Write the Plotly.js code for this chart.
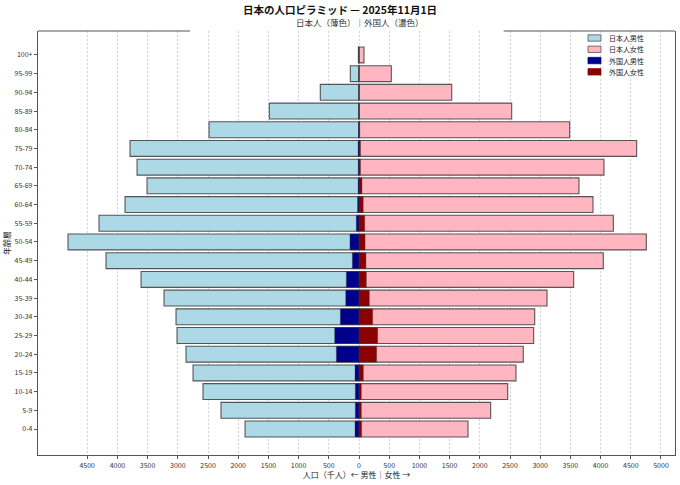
<!DOCTYPE html>
<html>
<head>
<meta charset="utf-8">
<script src="https://cdn.plot.ly/plotly-3.0.1.min.js"></script>
<style>
  html, body { margin: 0; padding: 0; background: #fff; }
  #chart { width: 680px; height: 485px; }
</style>
</head>
<body>
<div id="chart"></div>
<script>
// age groups, bottom -> top
const ages = ["0-4", "5-9", "10-14", "15-19", "20-24", "25-29", "30-34", "35-39", "40-44", "45-49",
    "50-54", "55-59", "60-64", "65-69", "70-74", "75-79", "80-84", "85-89", "90-94", "95-99", "100+"];

// population in thousands
const jpMale   = [1887, 2285, 2583, 2748, 2864, 3013, 3030, 3228, 3609, 4189, 4818, 4305, 3874, 3510, 3675, 3791, 2483, 1485, 641, 144, 10];
const jpFemale = [1805, 2180, 2462, 2599, 2720, 2892, 2909, 3113, 3554, 4045, 4757, 4211, 3874, 3642, 4056, 4597, 3488, 2528, 1535, 535, 83];
const fgMale   = [66, 61, 61, 66, 375, 403, 309, 220, 210, 110, 150, 45, 25, 15, 12, 15, 8, 4, 2, 1, 0];
const fgFemale = [44, 39, 39, 72, 292, 309, 226, 171, 122, 115, 100, 95, 70, 50, 25, 25, 12, 6, 3, 1, 0];

const seriesNames  = ["日本人男性", "日本人女性", "外国人男性", "外国人女性"];
const seriesColors = ["#ADD8E6", "#FFB6C1", "#00008B", "#8B0000"];

const tickVals = [-4500, -4000, -3500, -3000, -2500, -2000, -1500, -1000, -500, 0, 500, 1000, 1500, 2000, 2500, 3000, 3500, 4000, 4500, 5000];

const EDGE = { color: "rgba(60,60,60,0.85)", width: 1.1 };
const EDGE_FG = { color: "rgba(60,60,60,0.6)", width: 0.6 };
const FONT = "'Noto Sans CJK JP', 'Noto Sans', sans-serif";
const neg = a => a.map(v => -v);

function bar(i, x, edge) {
    return {
        type: "bar", orientation: "h", name: seriesNames[i], y: ages, x, width: 0.85,
        marker: { color: seriesColors[i], line: edge },
        hovertemplate: "<b>%{y}</b><br>%{x}<extra>" + seriesNames[i] + "</extra>"
    };
}

const traces = [
    bar(0, neg(jpMale), EDGE),
    bar(1, jpFemale, EDGE),
    bar(2, neg(fgMale), EDGE_FG),
    bar(3, fgFemale, EDGE_FG)
];

// compact legend (matplotlib-like spacing)
const legShapes = [], legText = [];
seriesNames.forEach((n, i) => {
    const yc = 0.9835 - i * 0.0266;
    legShapes.push({
        type: "rect", xref: "paper", yref: "paper", x0: 0.8634, x1: 0.8838, y0: yc - 0.0075, y1: yc + 0.0075,
        fillcolor: seriesColors[i], line: { color: i < 2 ? "rgba(60,60,60,0.85)" : seriesColors[i], width: 0.8 }, layer: "above"
    });
    legText.push({
        text: n, xref: "paper", yref: "paper", x: 0.8925, y: yc, xanchor: "left", yanchor: "middle",
        showarrow: false, font: { size: 7, color: "#222" }
    });
});

const layout = {
    width: 680, height: 485,
    paper_bgcolor: "#fff", plot_bgcolor: "#fff",
    font: { family: FONT, size: 7, color: "#333" },
    margin: { l: 38, r: 5, t: 31, b: 30 },
    barmode: "overlay",
    showlegend: false,
    title: {
        text: "<b>日本の人口ピラミッド — 2025年11月1日</b>",
        x: 0.5, xref: "container", xanchor: "center",
        y: 0.979, yref: "container", yanchor: "middle",
        font: { size: 10.5, color: "#111", family: FONT }
    },
    annotations: [{
        text: "日本人（薄色）｜外国人（濃色）", xref: "paper", yref: "paper",
        x: 0.505, y: 1.021, xanchor: "center", yanchor: "middle",
        showarrow: false, font: { size: 8.5, color: "#333" }
    }].concat(legText),
    xaxis: {
        range: [-5315, 5232],
        tickvals: tickVals, ticktext: tickVals.map(v => String(Math.abs(v))),
        showgrid: true, gridcolor: "#d2d2d2", gridwidth: 0.7, griddash: "2px,2px",
        zeroline: false,
        showline: true, linecolor: "#555", linewidth: 1.2, mirror: false,
        ticks: "outside", ticklen: 3, tickcolor: "#555",
        tickfont: { size: 7, color: "#333" },
        title: { text: "人口（千人）← 男性｜女性 →", font: { size: 8, color: "#222" }, standoff: 2 }
    },
    yaxis: {
        type: "category", range: [-1.39, 21.28],
        showgrid: false, zeroline: false,
        showline: true, linecolor: "#555", linewidth: 1.2, mirror: true,
        ticks: "outside", ticklen: 3, tickcolor: "#555",
        tickfont: { size: 7, color: "#333" },
        title: { text: "年齢層", font: { size: 8, color: "#222" }, standoff: 2 }
    },
    shapes: [
        // top frame is broken behind the title block
        { type: "rect", xref: "paper", yref: "paper", x0: 0.2386, x1: 0.731, y0: 0.988, y1: 1.003,
          fillcolor: "#fff", line: { width: 0 }, layer: "between" },
        { type: "line", xref: "paper", yref: "paper", x0: 0, x1: 0.2386, y0: 1, y1: 1, line: { color: "#555", width: 1.2 } },
        { type: "line", xref: "paper", yref: "paper", x0: 0.731, x1: 1, y0: 1, y1: 1, line: { color: "#555", width: 1.2 } }
    ].concat(legShapes)
};

Plotly.newPlot("chart", traces, layout, { displayModeBar: false, responsive: false });
</script>
</body>
</html>
